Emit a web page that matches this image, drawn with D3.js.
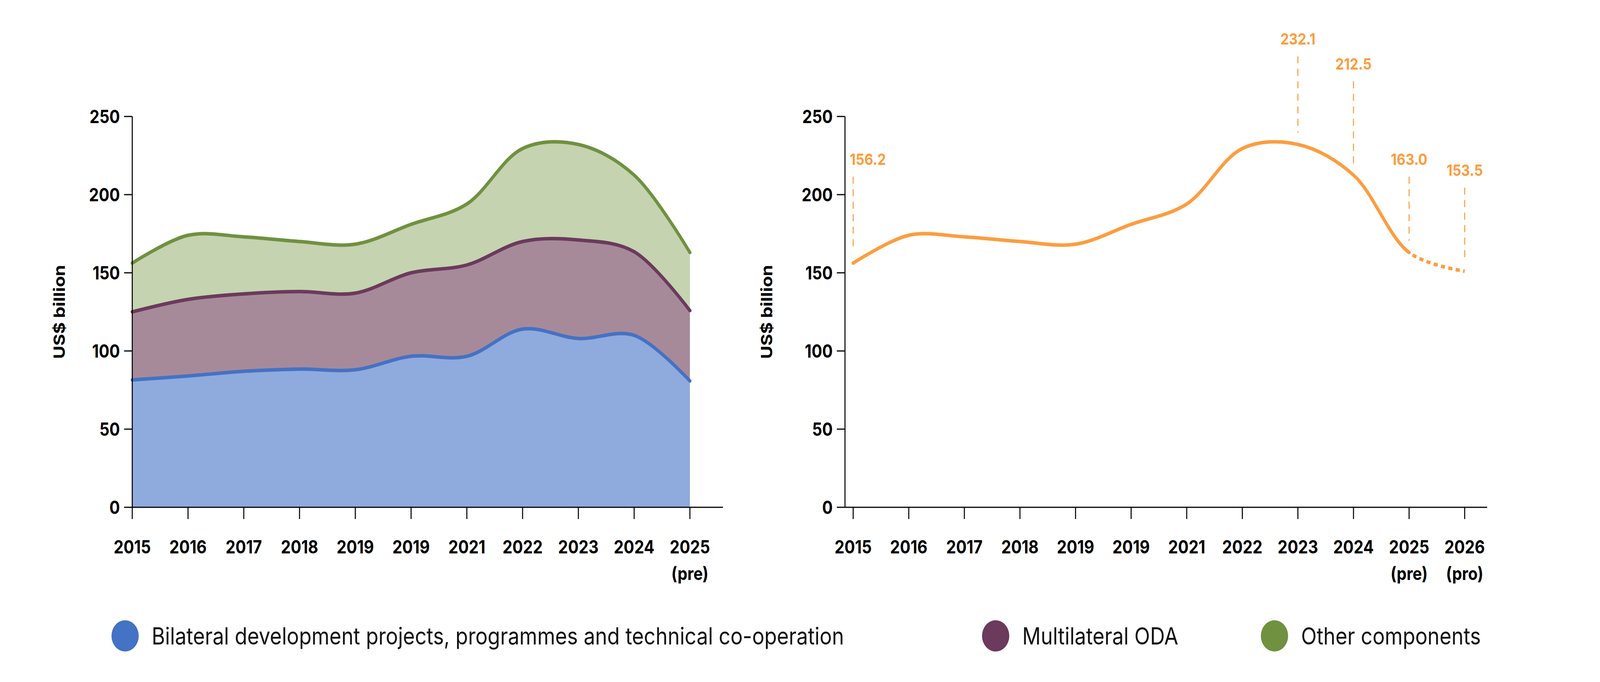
<!DOCTYPE html><html><head><meta charset="utf-8">
<script src="https://cdn.jsdelivr.net/npm/d3@7"></script>
<style>html,body{margin:0;padding:0;background:#fff;overflow:hidden}svg{display:block;width:100vw;height:100vh}text{font-family:Inter,"Noto Sans",sans-serif}</style></head><body>
<svg id="c" viewBox="0 0 4694 1745" preserveAspectRatio="none"></svg>
<script>
const leftYears=["2015","2016","2017","2018","2019","2019","2021","2022","2023","2024","2025"];
const leftSub=["","","","","","","","","","","(pre)"];
const rightYears=["2015","2016","2017","2018","2019","2019","2021","2022","2023","2024","2025","2026"];
const rightSub=["","","","","","","","","","","(pre)","(pro)"];
const bilateral=[81.5,84,87,88.4,88,96.6,96.6,114,108,110,80.8];
const multilateralTop=[125,133,136.5,138,137,150,155,170,171,163.5,125.8];
const totalTop=[156.2,174,173,170,168.3,181,194,229.5,232.1,212.5,163.0];
const totalLine=[156.2,174,173,170,168.3,181,194,229.5,232.1,212.5,163.0,151];
const annIdx=[0,8,9,10,11];
const annText=["156.2","232.1","212.5","163.0","153.5"];
const annLabelLevel=[219,296,280,219,212];
const yTicks=[0,50,100,150,200,250];
const legendNames=["Bilateral development projects, programmes and technical co-operation","Multilateral ODA","Other components"];
const legendColors=["#4472c4","#6b3a5c","#6f9140"];

const svg=d3.select("#c");
const y=d3.scaleLinear().domain([0,250]).range([1298,298]);
const curve=d3.curveCatmullRom.alpha(0.5);

function axes(g,x,n,years,subs,axisX,axisEnd){
  g.append("line").attr("x1",axisX).attr("x2",axisX).attr("y1",y(250)).attr("y2",y(0)).attr("stroke","#000").attr("stroke-width",3);
  g.append("line").attr("x1",axisX).attr("x2",axisEnd).attr("y1",y(0)).attr("y2",y(0)).attr("stroke","#000").attr("stroke-width",3);
  yTicks.forEach(t=>{
    g.append("line").attr("x1",axisX-24).attr("x2",axisX).attr("y1",y(t)).attr("y2",y(t)).attr("stroke","#000").attr("stroke-width",3);
    g.append("text").attr("x",axisX-36).attr("y",y(t)).attr("dy","0.36em").attr("text-anchor","end").attr("font-size",46).attr("font-weight",700).text(t);
  });
  for(let i=0;i<n;i++){
    const xx=x(i);
    g.append("line").attr("x1",xx).attr("x2",xx).attr("y1",y(0)).attr("y2",y(0)+30).attr("stroke","#000").attr("stroke-width",3);
    g.append("text").attr("x",xx).attr("y",1416).attr("text-anchor","middle").attr("font-size",46).attr("font-weight",700).text(years[i]);
    if(subs[i]) g.append("text").attr("x",xx).attr("y",1484).attr("text-anchor","middle").attr("font-size",46).attr("font-weight",700).text(subs[i]);
  }
}

// Left chart
const gl=svg.append("g");
const xl=d3.scaleLinear().domain([0,10]).range([388,2024]);
const idx=d3.range(11);
const zero=idx.map(()=>0);
function band(lo,hi,fill){
  gl.append("path").attr("d",d3.area().curve(curve).x(i=>xl(i)).y0(i=>y(lo[i])).y1(i=>y(hi[i]))(idx)).attr("fill",fill);
}
band(zero,bilateral,"#8faadc");
band(bilateral,multilateralTop,"#a78a9a");
band(multilateralTop,totalTop,"#c5d3b0");
[[bilateral,"#4472c4"],[multilateralTop,"#6b3a5c"],[totalTop,"#6f9140"]].forEach(([d,c])=>{
  gl.append("path").attr("d",d3.line().curve(curve).x(i=>xl(i)).y(i=>y(d[i]))(idx)).attr("fill","none").attr("stroke",c).attr("stroke-width",9).attr("stroke-linecap","round");
});
axes(gl,xl,11,leftYears,leftSub,388,2121);
gl.append("text").attr("transform",`translate(190,${y(125)}) rotate(-90)`).attr("text-anchor","middle").attr("font-size",46).attr("font-weight",700).text("US$ billion");

// Right chart
const gr=svg.append("g");
const xr=d3.scaleLinear().domain([0,11]).range([2503,4297]);
const ridx=d3.range(12);
const linePath=d3.line().curve(curve).x(i=>xr(i)).y(i=>y(totalLine[i]));
const full=gr.append("path").attr("d",linePath(ridx)).attr("fill","none").attr("stroke","#fc9d3f").attr("stroke-width",9).attr("stroke-linecap","round");
const node=full.node();const L=node.getTotalLength();
let lo=0,hi=L;const tx=xr(10);
for(let k=0;k<40;k++){const m=(lo+hi)/2;if(node.getPointAtLength(m).x<tx)lo=m;else hi=m;}
full.attr("stroke-dasharray",`${lo} ${L}`);
gr.append("path").attr("d",linePath(ridx)).attr("fill","none").attr("stroke","#fc9d3f").attr("stroke-width",9)
  .attr("stroke-dasharray",`0 ${lo+12} ${d3.range(20).map(()=> "12 10").join(" ")} 0 ${L}`);
axes(gr,xr,12,rightYears,rightSub,2479,4363);
gr.append("text").attr("transform",`translate(2266,${y(125)}) rotate(-90)`).attr("text-anchor","middle").attr("font-size",46).attr("font-weight",700).text("US$ billion");
annIdx.forEach((i,k)=>{
  const xx=xr(i), ly=y(annLabelLevel[k]);
  gr.append("text").attr("x",xx).attr("y",ly).attr("text-anchor",k===0?"start":"middle").attr("dx",k===0?-10:0).attr("font-size",40).attr("font-weight",700).attr("fill","#fc9d3f").text(annText[k]);
  gr.append("line").attr("x1",xx).attr("x2",xx).attr("y1",ly+30).attr("y2",y(totalLine[i])-30).attr("stroke","#fc9d3f").attr("stroke-width",3).attr("stroke-dasharray","18 14");
});

// Legend
const lx=[367,2921,3739];
legendNames.forEach((n,i)=>{
  svg.append("circle").attr("cx",lx[i]).attr("cy",1627).attr("r",40).attr("fill",legendColors[i]);
  svg.append("text").attr("x",lx[i]+78).attr("y",1627).attr("dy","0.36em").attr("font-size",60).attr("fill","#111").text(n);
});
</script></body></html>
